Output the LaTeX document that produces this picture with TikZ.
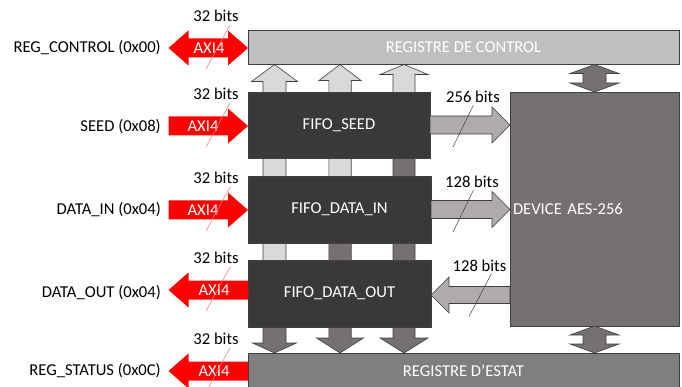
\documentclass[tikz,border=0pt]{standalone}
\usepackage{fontspec}
\setmainfont{Carlito}
\usetikzlibrary{calc}

\definecolor{ctrlfill}{HTML}{BFBFBF}
\definecolor{fifofill}{HTML}{3B3838}
\definecolor{devfill}{HTML}{767171}
\definecolor{statfill}{HTML}{7F7F7F}
\definecolor{upfill}{HTML}{D9D9D9}
\definecolor{busfill}{HTML}{AFABAB}
\definecolor{edge}{HTML}{404040}
\definecolor{axired}{HTML}{FF0000}
\definecolor{tickred}{HTML}{FF7C80}

\tikzset{
  % block-arrow geometry: half shaft width, half head width, head length
  fat sw/.store in=\fatsw, fat hw/.store in=\fathw, fat hl/.store in=\fathl,
  fat sw=9.5, fat hw=17.5, fat hl=20,
  % single-headed block arrow from start to target
  fat/.style={to path={
    let \p1=(\tikztostart), \p2=(\tikztotarget),
        \n1={veclen(\x2-\x1,\y2-\y1)},
        \n2={(\x2-\x1)/\n1}, \n3={(\y2-\y1)/\n1}
    in ({\x1-(\n3)*(\fatsw)},{\y1+(\n2)*(\fatsw)})
    -- ({\x1+(\n2)*(\n1-\fathl)-(\n3)*(\fatsw)},{\y1+(\n3)*(\n1-\fathl)+(\n2)*(\fatsw)})
    -- ({\x1+(\n2)*(\n1-\fathl)-(\n3)*(\fathw)},{\y1+(\n3)*(\n1-\fathl)+(\n2)*(\fathw)})
    -- (\p2)
    -- ({\x1+(\n2)*(\n1-\fathl)+(\n3)*(\fathw)},{\y1+(\n3)*(\n1-\fathl)-(\n2)*(\fathw)})
    -- ({\x1+(\n2)*(\n1-\fathl)+(\n3)*(\fatsw)},{\y1+(\n3)*(\n1-\fathl)-(\n2)*(\fatsw)})
    -- ({\x1+(\n3)*(\fatsw)},{\y1-(\n2)*(\fatsw)}) -- cycle
  }},
  % double-headed block arrow
  fat2/.style={to path={
    let \p1=(\tikztostart), \p2=(\tikztotarget),
        \n1={veclen(\x2-\x1,\y2-\y1)},
        \n2={(\x2-\x1)/\n1}, \n3={(\y2-\y1)/\n1}
    in ({\x1+(\n2)*(\fathl)-(\n3)*(\fatsw)},{\y1+(\n3)*(\fathl)+(\n2)*(\fatsw)})
    -- ({\x1+(\n2)*(\n1-\fathl)-(\n3)*(\fatsw)},{\y1+(\n3)*(\n1-\fathl)+(\n2)*(\fatsw)})
    -- ({\x1+(\n2)*(\n1-\fathl)-(\n3)*(\fathw)},{\y1+(\n3)*(\n1-\fathl)+(\n2)*(\fathw)})
    -- (\p2)
    -- ({\x1+(\n2)*(\n1-\fathl)+(\n3)*(\fathw)},{\y1+(\n3)*(\n1-\fathl)-(\n2)*(\fathw)})
    -- ({\x1+(\n2)*(\n1-\fathl)+(\n3)*(\fatsw)},{\y1+(\n3)*(\n1-\fathl)-(\n2)*(\fatsw)})
    -- ({\x1+(\n2)*(\fathl)+(\n3)*(\fatsw)},{\y1+(\n3)*(\fathl)-(\n2)*(\fatsw)})
    -- ({\x1+(\n2)*(\fathl)+(\n3)*(\fathw)},{\y1+(\n3)*(\fathl)-(\n2)*(\fathw)})
    -- (\p1)
    -- ({\x1+(\n2)*(\fathl)-(\n3)*(\fathw)},{\y1+(\n3)*(\fathl)+(\n2)*(\fathw)})
    -- cycle
  }},
  txt/.style={font=\fontsize{16.6}{19.5}\selectfont},
  box/.style={txt, draw=edge, line width=0.75pt, inner sep=0pt, outer sep=0pt, text=white},
  lbl/.style={txt, inner sep=0pt, text=black},
  axi/.style={fill=axired, draw=none},
  uparr/.style={fill=upfill, draw=edge, line width=0.6pt},
  dnarr/.style={fill=devfill, draw=edge, line width=0.6pt},
  busarr/.style={fill=busfill, draw=edge, line width=0.6pt},
  redtick/.style={draw=tickred, line width=0.6pt},
  graytick/.style={draw=edge, line width=0.5pt},
}

\begin{document}
\begin{tikzpicture}[x=1pt, y=-1pt]
\useasboundingbox (0,0) rectangle (682,387);
\clip (0,0) rectangle (682,387);

% anchor points of the vertical control/status buses
\coordinate (b1) at (274.5,300);
\coordinate (b2) at (340,210);
\coordinate (b3) at (404,125);

% reference points for the bus heads
\coordinate (ctrlbot) at (463.5,64.5);
\coordinate (stattop) at (463.5,353);

% control buses (up) and status buses (down)
\draw[uparr] (b1) to[fat, fat sw=11.5, fat hw=23, fat hl=17] (b1 |- ctrlbot);
\draw[uparr] (b2) to[fat, fat sw=11.2, fat hw=21, fat hl=16] (b2 |- ctrlbot);
\draw[uparr] (b3) to[fat, fat sw=11, fat hw=24, fat hl=10] (b3 |- ctrlbot);
\draw[dnarr] (b1) to[fat, fat sw=11.5, fat hw=22, fat hl=10] (b1 |- stattop);
\draw[dnarr] (b2) to[fat, fat sw=11.2, fat hw=23.5, fat hl=15] (b2 |- stattop);
\draw[dnarr] (b3) to[fat, fat sw=11, fat hw=24, fat hl=15] (b3 |- stattop);

% register blocks
\node[box, fill=ctrlfill, minimum width=431, minimum height=34.5] (ctrl) at (463.5,47.25) {REGISTRE DE CONTROL};
\node[box, fill=statfill, minimum width=431, minimum height=36] (stat) at (463.5,371) {REGISTRE D’ESTAT};

% FIFOs
\node[box, fill=fifofill, minimum width=182, minimum height=66] (seed) at (339,125) {FIFO\_SEED};
\node[box, fill=fifofill, minimum width=183, minimum height=67] (din) at (339.5,209.5) {FIFO\_DATA\_IN};
\node[box, fill=fifofill, minimum width=183, minimum height=67] (dout) at (339.5,293.5) {FIFO\_DATA\_OUT};

% cipher core
\node[box, fill=devfill, minimum width=169, minimum height=234, text width=163, align=left] (dev) at (594.5,209) {DEVICE AES-256};

% data paths between FIFOs and the core
\draw[busarr] (seed.east) to[fat, fat sw=9, fat hw=18, fat hl=18] (dev.west |- seed.east);
\draw[busarr] (din.east) to[fat, fat sw=9, fat hw=18, fat hl=18] (dev.west |- din.east);
\coordinate (doutin) at ($(dout.east)+(0,1.5)$);
\draw[busarr] (dev.west |- doutin) to[fat, fat sw=8.5, fat hw=18, fat hl=18] (doutin);

% core <-> registers
\coordinate (cd1) at (ctrl.south -| dev.center);
\coordinate (cd2) at (stat.north -| dev.center);
\draw[dnarr] (cd1) to[fat2, fat sw=11.5, fat hw=24.5, fat hl=9] (dev.north);
\draw[dnarr] (dev.south) to[fat2, fat sw=11.5, fat hw=24.5, fat hl=9] (cd2);

% bus-width annotations on the data paths
\node[lbl] (w256) at (473,97) {256 bits};
\draw[graytick] ($(w256.south)+(0.5,2)$) -- ++(-20.5,42);
\node[lbl] (w128a) at (472,182) {128 bits};
\draw[graytick] ($(w128a.south)+(1.5,2)$) -- ++(-20.5,42);
\node[lbl] (w128b) at (479.5,265.5) {128 bits};
\draw[graytick] ($(w128b.south)+(12,2)$) -- ++(-22.5,43);

% AXI4 ports
\coordinate (pc) at (168.5,48);
\coordinate (ps) at (168.5,126);
\coordinate (pi) at (168.5,210);
\coordinate (po) at (168.5,290);
\coordinate (pt) at (168.5,371);

\draw[axi] (pc) to[fat2] (ctrl.west |- pc);
\draw[axi] (ps) to[fat] (seed.west |- ps);
\draw[axi] (pi) to[fat] (din.west |- pi);
\draw[axi] (dout.west |- po) to[fat] (po);
\draw[axi] (stat.west |- pt) to[fat] (pt);

\node[txt, text=white, inner sep=0pt] (axc) at (209,48) {AXI4};
\node[txt, text=white, inner sep=0pt] (axs) at (203,126) {AXI4};
\node[txt, text=white, inner sep=0pt] (axi) at (203,210) {AXI4};
\node[txt, text=white, inner sep=0pt] (axo) at (214,290) {AXI4};
\node[txt, text=white, inner sep=0pt] (axt) at (214,371) {AXI4};

% 32-bit width marks on the AXI4 ports
\foreach \pp/\nn in {pc/kc, ps/ks, pi/ki, po/ko, pt/kt}{
  \node[lbl] (\nn) at ($(\pp)+(47.5,-32)$) {32 bits};
  \draw[redtick] ($(\pp)+(61.5,-23)$) -- ($(\pp)+(37.5,21)$);
}

% port names
\node[lbl, anchor=east] (nc) at (161,48) {REG\_CONTROL (0x00)};
\node[lbl, anchor=east] (ns) at (161,127) {SEED (0x08)};
\node[lbl, anchor=east] (ni) at (161,210) {DATA\_IN (0x04)};
\node[lbl, anchor=east] (no) at (161,293) {DATA\_OUT (0x04)};
\node[lbl, anchor=east] (nt) at (161,371) {REG\_STATUS (0x0C)};
\end{tikzpicture}
\end{document}
